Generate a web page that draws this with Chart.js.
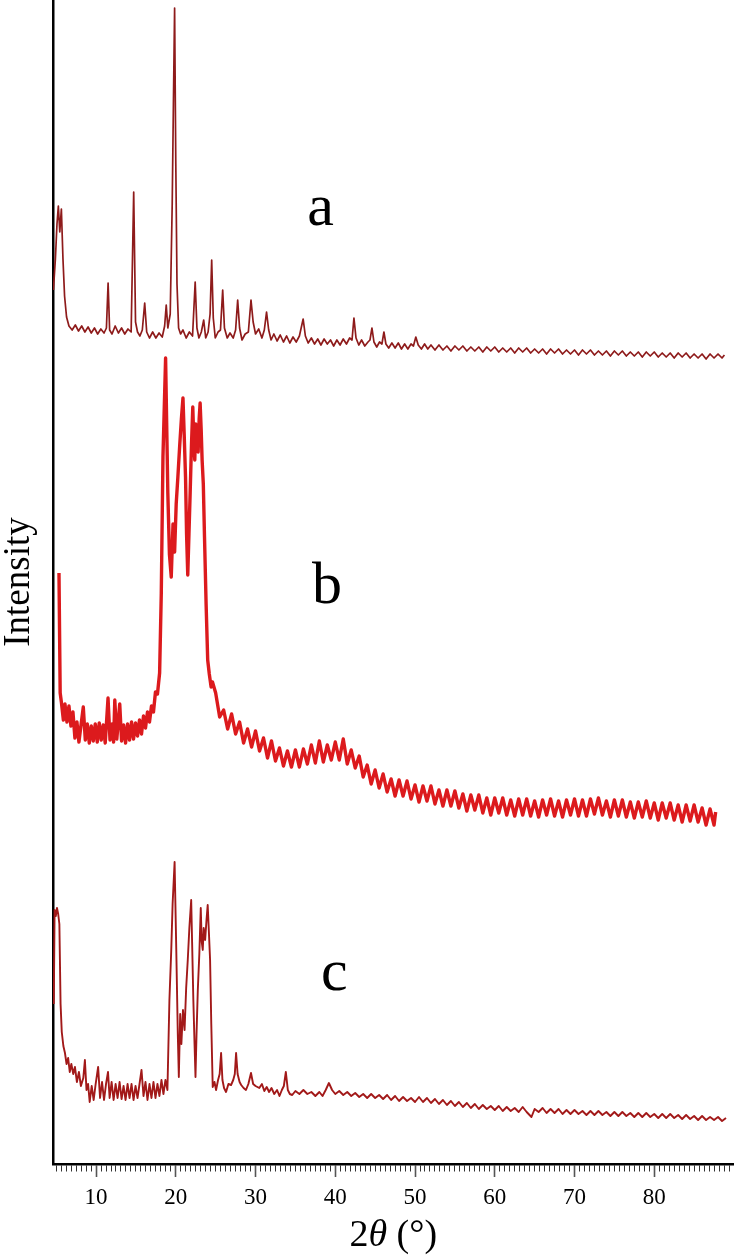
<!DOCTYPE html>
<html>
<head>
<meta charset="utf-8">
<script src="https://cdn.jsdelivr.net/npm/chart.js@4/dist/chart.umd.min.js"></script>
<style>
  html, body { margin: 0; padding: 0; background: #fff; }
  canvas { display: block; }
</style>
</head>
<body>
<canvas id="c" width="736" height="1260"></canvas>
<script>
// ---- data: [2theta (deg), intensity (arb. units, stacked)] ----
const seriesA = [
  [4.65,874],[4.9,905],[5.1,940],[5.27,958],[5.45,932],[5.65,955],[5.85,905],[6.05,868],[6.3,847],[6.6,838],
  [7.0,834],[7.4,839],[7.8,833],[8.2,838],[8.6,832],[9.0,837],[9.4,831],[9.8,836],[10.2,830],[10.6,835],
  [11.0,831],[11.3,836],[11.51,881],[11.7,834],[12.0,830],[12.4,838],[12.8,831],[13.2,836],[13.6,830],[14.0,835],
  [14.4,832],[14.72,972],[14.95,842],[15.2,832],[15.5,828],[15.8,834],[16.1,861],[16.35,832],[16.7,826],[17.1,832],
  [17.5,826],[17.9,831],[18.3,827],[18.6,838],[18.8,859],[19.0,836],[19.3,850],[19.55,960],[19.7,1060],[19.85,1156],
  [20.0,1000],[20.15,880],[20.35,836],[20.6,830],[20.9,834],[21.3,826],[21.7,832],[22.1,828],[22.43,882],[22.65,836],
  [22.9,826],[23.2,832],[23.5,844],[23.75,826],[24.05,832],[24.3,850],[24.5,904],[24.7,846],[24.95,826],[25.3,832],
  [25.6,834],[25.88,874],[26.1,836],[26.45,826],[26.8,831],[27.2,826],[27.5,834],[27.76,864],[28.0,836],[28.3,824],
  [28.7,830],[29.1,832],[29.43,864],[29.7,842],[30.0,830],[30.4,835],[30.8,826],[31.1,834],[31.38,852],[31.65,834],
  [31.95,824],[32.3,830],[32.7,823],[33.1,829],[33.5,822],[33.9,828],[34.3,821],[34.7,827],[35.1,822],[35.5,828],
  [35.97,845],[36.25,828],[36.6,821],[37.0,826],[37.4,820],[37.8,825],[38.2,819],[38.6,825],[39.0,820],[39.4,824],
  [39.8,818],[40.2,824],[40.6,819],[41.0,825],[41.4,820],[41.8,826],[42.1,824],[42.34,846],[42.6,826],[42.95,819],
  [43.3,824],[43.7,818],[44.1,822],[44.35,824],[44.6,836],[44.85,822],[45.2,817],[45.55,822],[45.85,820],[46.1,832],
  [46.35,820],[46.7,816],[47.1,821],[47.5,816],[47.9,821],[48.3,815],[48.7,820],[49.1,815],[49.5,820],[49.8,818],
  [50.1,827],[50.4,819],[50.8,815],[51.2,820],[51.6,815],[52.0,819],[52.5,814],[53.0,819],[53.5,814],[54.0,818],
  [54.5,813],[55.0,818],[55.5,814],[56.0,818],[56.5,813],[57.0,817],[57.5,813],[58.0,817],[58.5,812],[59.0,817],
  [59.5,813],[60.0,817],[60.5,812],[61.0,816],[61.5,812],[62.0,816],[62.5,811],[63.0,816],[63.5,812],[64.0,816],
  [64.5,811],[65.0,815],[65.5,811],[66.0,815],[66.5,810],[67.0,815],[67.5,811],[68.0,815],[68.5,810],[69.0,814],
  [69.5,810],[70.0,814],[70.5,809],[71.0,814],[71.5,810],[72.0,814],[72.5,809],[73.0,813],[73.5,809],[74.0,813],
  [74.5,808],[75.0,813],[75.5,809],[76.0,813],[76.5,808],[77.0,812],[77.5,808],[78.0,812],[78.5,807],[79.0,812],
  [79.5,808],[80.0,812],[80.5,807],[81.0,811],[81.5,807],[82.0,811],[82.5,806],[83.0,811],[83.5,807],[84.0,811],
  [84.5,806],[85.0,810],[85.5,806],[86.0,810],[86.5,805],[87.0,810],[87.5,806],[88.0,810],[88.5,806],[88.8,809]
];

const seriesB = [
  [5.35,591],[5.5,471],[5.65,462],[5.9,444],[6.1,460],[6.35,442],[6.6,458],[6.85,438],[7.1,452],[7.35,426],
  [7.6,442],[7.85,422],[8.1,438],[8.4,457],[8.65,424],[8.9,440],[9.15,421],[9.4,438],[9.65,423],[9.9,440],
  [10.15,422],[10.4,441],[10.65,424],[10.9,439],[11.15,421],[11.5,466],[11.75,424],[12.0,440],[12.2,422],[12.35,464],
  [12.6,425],[12.97,460],[13.2,423],[13.45,439],[13.7,421],[13.95,440],[14.2,424],[14.45,442],[14.7,425],[14.95,441],
  [15.2,428],[15.45,444],[15.7,430],[15.95,448],[16.2,436],[16.45,452],[16.7,442],[16.95,458],[17.2,452],[17.45,472],
  [17.7,470],[17.97,491],[18.18,571],[18.39,707],[18.72,806],[19.0,671],[19.2,610],[19.43,587],[19.65,640],[19.85,612],
  [20.05,660],[20.26,687],[20.5,720],[20.7,745],[20.9,766],[21.05,730],[21.22,687],[21.35,630],[21.5,589],[21.65,630],
  [21.8,671],[21.97,720],[22.13,757],[22.25,725],[22.38,704],[22.5,740],[22.63,731],[22.8,712],[22.93,745],[23.05,761],
  [23.18,735],[23.3,704],[23.45,680],[23.6,627],[23.8,560],[24.0,504],[24.2,490],[24.43,477],[24.6,482],
  [25.0,471],[25.5,447],[26.0,454],[26.5,435],[27.0,450],[27.5,430],[28.0,442],[28.5,421],[29.0,435],[29.5,417],
  [30.0,433],[30.5,413],[31.0,426],[31.5,406],[32.0,423],[32.5,403],[33.0,416],[33.5,398],[34.0,413],[34.5,397],
  [35.0,414],[35.5,397],[36.0,415],[36.5,400],[37.0,419],[37.5,401],[38.0,423],[38.5,402],[39.0,419],[39.5,404],
  [40.0,422],[40.5,404],[41.0,425],[41.5,400],[42.0,414],[42.5,396],[43.0,408],[43.5,387],[44.0,399],[44.5,380],
  [45.0,394],[45.5,376],[46.0,390],[46.5,372],[47.0,385],[47.5,368],[48.0,384],[48.5,368],[49.0,383],[49.5,365],
  [50.0,379],[50.5,362],[51.0,378],[51.5,363],[52.0,378],[52.5,360],[53.0,374],[53.5,358],[54.0,374],[54.5,358],
  [55.0,373],[55.5,356],[56.0,370],[56.5,353],[57.0,369],[57.5,354],[58.0,369],[58.5,351],[59.0,366],[59.5,349],
  [60.0,366],[60.5,351],[61.0,366],[61.5,349],[62.0,364],[62.5,348],[63.0,365],[63.5,349],[64.0,365],[64.5,348],
  [65.0,363],[65.5,347],[66.0,364],[66.5,349],[67.0,365],[67.5,348],[68.0,363],[68.5,347],[69.0,364],[69.5,349],
  [70.0,365],[70.5,348],[71.0,364],[71.5,348],[72.0,365],[72.5,350],[73.0,366],[73.5,349],[74.0,363],[74.5,347],
  [75.0,364],[75.5,348],[76.0,364],[76.5,347],[77.0,362],[77.5,346],[78.0,362],[78.5,347],[79.0,363],[79.5,346],
  [80.0,361],[80.5,344],[81.0,361],[81.5,346],[82.0,361],[82.5,344],[83.0,359],[83.5,342],[84.0,359],[84.5,343],
  [85.0,359],[85.5,342],[86.0,356],[86.5,339],[87.0,355],[87.5,339],[87.7,352]
];

const seriesC = [
  [4.7,160],[4.8,254],[4.95,248],[5.1,256],[5.25,250],[5.4,240],[5.55,160],[5.7,132],[5.9,118],[6.1,111],
  [6.3,100],[6.5,106],[6.7,92],[6.9,100],[7.14,90],[7.35,97],[7.6,82],[7.85,92],[8.1,78],[8.4,86],
  [8.6,104],[8.8,74],[9.0,80],[9.2,62],[9.45,78],[9.7,64],[9.95,80],[10.26,97],[10.5,66],[10.75,82],
  [11.0,64],[11.25,80],[11.5,92],[11.7,66],[11.95,82],[12.2,64],[12.45,80],[12.7,66],[12.95,82],[13.2,65],
  [13.45,78],[13.7,64],[13.95,80],[14.2,66],[14.45,80],[14.7,64],[14.95,78],[15.2,66],[15.45,80],[15.7,94],
  [15.95,68],[16.2,82],[16.45,64],[16.7,80],[16.95,66],[17.2,82],[17.45,66],[17.7,80],[17.95,68],[18.2,84],
  [18.45,70],[18.7,84],[18.95,74],[19.2,164],[19.43,214],[19.6,260],[19.85,302],[20.06,214],[20.25,130],[20.38,87],
  [20.55,150],[20.7,120],[20.9,154],[21.1,134],[21.3,176],[21.5,204],[21.7,236],[21.93,264],[22.05,220],[22.2,164],
  [22.35,120],[22.47,87],[22.6,130],[22.76,174],[22.95,210],[23.13,256],[23.25,222],[23.38,214],[23.5,236],[23.68,224],
  [23.85,244],[24.0,259],[24.15,232],[24.3,204],[24.45,140],[24.63,77],[24.85,82],[25.05,74],[25.3,84],[25.5,90],
  [25.68,111],[25.85,84],[26.05,76],[26.3,72],[26.6,80],[26.93,79],[27.2,84],[27.4,90],[27.56,111],[27.75,90],
  [28.0,82],[28.2,79],[28.5,76],[28.8,74],[29.1,80],[29.43,91],[29.7,80],[30.0,78],[30.47,76],[30.8,80],
  [31.1,73],[31.4,77],[31.7,72],[32.0,76],[32.35,70],[32.7,74],[33.0,68],[33.3,74],[33.55,78],[33.8,92],
  [34.05,74],[34.3,70],[34.6,69],[35.0,73],[35.5,70],[36.0,74],[36.5,70],[37.0,72],[37.5,68],[38.0,72],
  [38.4,68],[38.8,74],[39.2,81],[39.6,74],[40.0,70],[40.5,73],[41.0,69],[41.5,72],[42.0,68],[42.5,71],
  [43.0,67],[43.5,70],[44.0,66],[44.5,70],[45.0,66],[45.5,69],[46.0,65],[46.5,69],[47.0,64],[47.5,68],
  [48.0,63],[48.5,67],[49.0,63],[49.5,66],[50.0,62],[50.5,67],[51.0,62],[51.5,66],[52.0,61],[52.5,65],
  [53.0,60],[53.5,64],[54.0,59],[54.5,63],[55.0,58],[55.5,62],[56.0,57],[56.5,61],[57.0,56],[57.5,60],
  [58.0,55],[58.5,59],[59.0,55],[59.5,58],[60.0,54],[60.5,58],[61.0,53],[61.5,57],[62.0,53],[62.5,56],
  [63.0,52],[63.5,57],[64.0,52],[64.6,47],[65.0,55],[65.5,52],[66.0,56],[66.5,51],[67.0,55],[67.5,51],
  [68.0,55],[68.5,50],[69.0,54],[69.5,50],[70.0,54],[70.5,50],[71.0,53],[71.5,49],[72.0,53],[72.5,49],
  [73.0,53],[73.5,49],[74.0,52],[74.5,48],[75.0,52],[75.5,48],[76.0,52],[76.5,48],[77.0,51],[77.5,47],
  [78.0,51],[78.5,47],[79.0,51],[79.5,47],[80.0,50],[80.5,46],[81.0,50],[81.5,46],[82.0,50],[82.5,46],
  [83.0,49],[83.5,45],[84.0,49],[84.5,45],[85.0,48],[85.5,44],[86.0,48],[86.5,44],[87.0,47],[87.5,44],
  [88.0,47],[88.5,43],[89.0,46]
];

const xTickLabels = ['10','20','30','40','50','60','70','80'];
const curveNames = ['a','b','c'];
const yAxisTitle = 'Intensity';
const xAxisTitleParts = [['2','normal'],['\u03B8','italic'],[' (\u00B0)','normal']];

// ---- layout / style (not data) ----
const X_MIN = 4.6, X_MAX = 89.95, Y_MIN = 0, Y_MAX = 1164;
const MINOR_STEP = 0.625;
const curveLabelAnchors = [[36.47, 939], [37.09, 561], [38.2, 174]]; // data coords of label baselines
const SERIF = '"Liberation Serif", "Times New Roman", serif';

const toXY = s => s.map(p => ({x: p[0], y: p[1]}));
const isMajor = c => c && c.tick && xTickLabels.includes(String(c.tick.value));

const curveLabelPlugin = {
  id: 'curveLabels',
  afterDatasetsDraw(chart) {
    const {ctx, scales} = chart;
    ctx.save();
    ctx.fillStyle = '#000';
    ctx.font = '60px ' + SERIF;
    ctx.textAlign = 'left';
    ctx.textBaseline = 'alphabetic';
    curveNames.forEach((n, i) => {
      const px = scales.x.getPixelForValue(curveLabelAnchors[i][0]);
      const py = scales.y.getPixelForValue(curveLabelAnchors[i][1]);
      ctx.fillText(n, px, py);
    });
    ctx.restore();
  }
};

const xTitlePlugin = {
  id: 'xTitle',
  afterDraw(chart) {
    const {ctx, chartArea} = chart;
    ctx.save();
    ctx.fillStyle = '#000';
    ctx.textBaseline = 'middle';
    ctx.textAlign = 'left';
    const size = 38;
    const widths = xAxisTitleParts.map(([t, st]) => {
      ctx.font = (st === 'italic' ? 'italic ' : '') + size + 'px ' + SERIF;
      return ctx.measureText(t).width;
    });
    const total = widths.reduce((a, b) => a + b, 0);
    let x = (chartArea.left + chartArea.right) / 2 - total / 2;
    const y = chart.height - 24;
    xAxisTitleParts.forEach(([t, st], i) => {
      ctx.font = (st === 'italic' ? 'italic ' : '') + size + 'px ' + SERIF;
      ctx.fillText(t, x, y);
      x += widths[i];
    });
    ctx.restore();
  }
};

new Chart(document.getElementById('c'), {
  type: 'line',
  data: {
    datasets: [
      {label: 'a', data: toXY(seriesA), borderColor: '#8e1b1b', borderWidth: 1.7},
      {label: 'b', data: toXY(seriesB), borderColor: '#dc1a1d', borderWidth: 3.4},
      {label: 'c', data: toXY(seriesC), borderColor: '#a21919', borderWidth: 1.9}
    ]
  },
  options: {
    responsive: false,
    devicePixelRatio: 1,
    animation: false,
    events: [],
    parsing: true,
    elements: {point: {radius: 0}, line: {tension: 0, fill: false, borderJoinStyle: 'round'}},
    layout: {padding: 0},
    plugins: {legend: {display: false}, tooltip: {enabled: false}, title: {display: false}},
    scales: {
      x: {
        type: 'linear', position: 'bottom', min: X_MIN, max: X_MAX,
        border: {display: true, color: '#000', width: 2.5},
        grid: {
          display: true, drawOnChartArea: false, drawTicks: true, tickLength: 13,
          tickColor: c => (isMajor(c) ? '#555' : '#333'),
          tickWidth: c => (isMajor(c) ? 1.6 : 1),
          tickBorderDash: c => (isMajor(c) ? [] : [6, 40])
        },
        ticks: {
          stepSize: MINOR_STEP, includeBounds: false, autoSkip: false, maxRotation: 0, minRotation: 0, padding: 7,
          color: '#000', font: {family: SERIF, size: 23},
          callback: v => (xTickLabels.includes(String(v)) ? String(v) : '')
        },
        afterFit: s => { s.height = 96; }
      },
      y: {
        type: 'linear', position: 'left', min: Y_MIN, max: Y_MAX,
        border: {display: true, color: '#000', width: 2.5},
        grid: {display: false},
        ticks: {display: false},
        title: {display: true, text: yAxisTitle, color: '#000', padding: {top: 4, bottom: 0},
                font: {family: SERIF, size: 37, lineHeight: 0.8}},
        afterFit: s => { s.width = 53; }
      }
    }
  },
  plugins: [curveLabelPlugin, xTitlePlugin]
});
</script>
</body>
</html>
